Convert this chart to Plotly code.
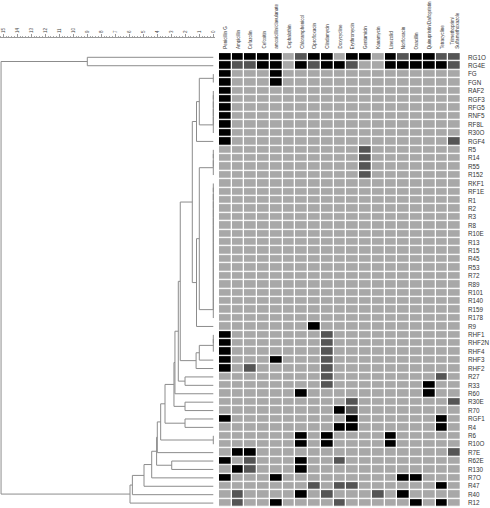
import plotly.graph_objects as go

# antibiotics (heatmap columns)
antibiotics = ["Penicillin G", "Ampicillin", "Cefazolin", "Cefoxitin",
               "amoxicillin/clavulanate", "Cephalothin", "Chloramphenicol",
               "Ciprofloxacin", "Clindamycin", "Doxycycline", "Erythromycin",
               "Gentamicin", "Kanamycin", "Linezolid", "Norfloxacin", "Oxacillin",
               "Quinupristin/Dalfopristin", "Tetracycline",
               "Trimethoprim/<br>Sulfamethoxazole"]

# isolates, top to bottom
isolates = ["RG1O", "RG4E", "FG", "FGN", "RAF2", "RGF3", "RFG5", "RNF5", "RF8L",
            "R30O", "RGF4", "R5", "R14", "R55", "R152", "RKF1", "RF1E", "R1", "R2",
            "R3", "R8", "R10E", "R13", "R15", "R45", "R53", "R72", "R89", "R101",
            "R140", "R159", "R178", "R9", "RHF1", "RHF2N", "RHF4", "RHF3", "RHF2",
            "R27", "R33", "R60", "R30E", "R70", "RGF1", "R4", "R6", "R10O", "R7E",
            "R62E", "R130", "R7O", "R47", "R40", "R12"]

# 0 = susceptible, 1 = intermediate, 2 = resistant
profiles = [
    "2222201220220212211",  # RG1O
    "2112202122100222221",  # RG4E
    "2000200000000000000",  # FG
    "2000200000000000000",  # FGN
    "2000000000000000000",  # RAF2
    "2000000000000000000",  # RGF3
    "2000000000000000000",  # RFG5
    "2000000000000000000",  # RNF5
    "2000000000000000000",  # RF8L
    "2000000000000000000",  # R30O
    "2000000000000000001",  # RGF4
    "0000000000010000000",  # R5
    "0000000000010000000",  # R14
    "0000000000010000000",  # R55
    "0000000000010000000",  # R152
    "0000000000000000000",  # RKF1
    "0000000000000000000",  # RF1E
    "0000000000000000000",  # R1
    "0000000000000000000",  # R2
    "0000000000000000000",  # R3
    "0000000000000000000",  # R8
    "0000000000000000000",  # R10E
    "0000000000000000000",  # R13
    "0000000000000000000",  # R15
    "0000000000000000000",  # R45
    "0000000000000000000",  # R53
    "0000000000000000000",  # R72
    "0000000000000000000",  # R89
    "0000000000000000000",  # R101
    "0000000000000000000",  # R140
    "0000000000000000000",  # R159
    "0000000000000000000",  # R178
    "0000000200000000000",  # R9
    "2000000010000000000",  # RHF1
    "2000000010000000000",  # RHF2N
    "2000000010000000000",  # RHF4
    "2000200010000000000",  # RHF3
    "2010000010000000000",  # RHF2
    "0000000010000000010",  # R27
    "0000000010000000200",  # R33
    "0000002000000000200",  # R60
    "0000000000100000001",  # R30E
    "0000000002100000000",  # R70
    "2000000000200000020",  # RGF1
    "0000000002200000020",  # R4
    "0000002020000200000",  # R6
    "0000002020000200000",  # R10O
    "0220000000000000001",  # R7E
    "2010002001000000000",  # R62E
    "0210002000000000000",  # R130
    "2000200000000022000",  # R7O
    "0000000101100000020",  # R47
    "0100002010001020000",  # R40
    "0100200001000002020",  # R12
]

# identical isolates joined at distance 0
groups = {
    "g_fg": ["FG", "FGN"],
    "g_raf": ["RAF2", "RGF3", "RFG5", "RNF5", "RF8L", "R30O"],
    "g_r5": ["R5", "R14", "R55", "R152"],
    "g_sus": ["RKF1", "RF1E", "R1", "R2", "R3", "R8", "R10E", "R13", "R15", "R45",
              "R53", "R72", "R89", "R101", "R140", "R159", "R178"],
    "g_rhf": ["RHF1", "RHF2N", "RHF4"],
    "g_r6": ["R6", "R10O"],
}

# (node, left, right, distance)
merges = [
    ("A3", "g_fg", "g_raf", 1.0),
    ("A", "A3", "RGF4", 1.2),
    ("B3", "g_r5", "g_sus", 1.0),
    ("B", "B3", "R9", 1.2),
    ("AB", "A", "B", 1.5),
    ("H4", "g_rhf", "RHF3", 1.0),
    ("H5", "H4", "RHF2", 1.23),
    ("C", "AB", "H5", 2.36),
    ("P1", "R27", "R33", 2.02),
    ("E", "C", "P1", 2.5),
    ("F1", "E", "R60", 2.74),
    ("P2", "R30E", "R70", 2.02),
    ("F2", "F1", "P2", 2.81),
    ("P3", "RGF1", "R4", 2.02),
    ("G", "F2", "P3", 3.45),
    ("Hn", "G", "g_r6", 3.76),
    ("I1", "Hn", "R7E", 4.0),
    ("P5", "R62E", "R130", 2.97),
    ("I2", "I1", "P5", 4.05),
    ("J", "I2", "R7O", 4.4),
    ("K", "J", "R47", 4.95),
    ("L", "K", "R40", 5.78),
    ("M", "L", "R12", 5.95),
    ("T", "RG1O", "RG4E", 9.0),
    ("root", "T", "M", 15.16),
]

dist_ticks = list(range(0, 16))


def build_dendrogram():
    """Return x/y line coordinates of the dendrogram."""
    nodes = {name: (i, 0.0) for i, name in enumerate(isolates)}
    xs, ys = [], []

    def join(nid, a, b, h):
        ya, ha = nodes[a]
        yb, hb = nodes[b]
        xs.extend([ha, h, h, hb, None])
        ys.extend([ya, ya, yb, yb, None])
        nodes[nid] = ((ya + yb) / 2, h)

    for gid, members in groups.items():
        prev = members[0]
        for k, m in enumerate(members[1:]):
            nid = gid if k == len(members) - 2 else f"{gid}_{k}"
            join(nid, prev, m, 0.0)
            prev = nid
    for nid, a, b, h in merges:
        join(nid, a, b, h)
    return xs, ys


z = [[int(c) for c in row] for row in profiles]
dx, dy = build_dendrogram()

W, H = 490, 508
FONT = "Liberation Sans, Arial, sans-serif"

fig = go.Figure()
fig.add_trace(go.Scatter(x=dx, y=dy, mode="lines", xaxis="x", yaxis="y",
                         line=dict(color="#8c8c8c", width=1), hoverinfo="skip",
                         showlegend=False))
fig.add_trace(go.Heatmap(z=z, x=list(range(len(antibiotics))),
                         y=list(range(len(isolates))), xaxis="x2", yaxis="y",
                         zmin=0, zmax=2, showscale=False, xgap=1.3, ygap=1.3,
                         colorscale=[[0, "#a8a8a8"], [0.333, "#a8a8a8"],
                                     [0.333, "#555555"], [0.667, "#555555"],
                                     [0.667, "#000000"], [1, "#000000"]]))

# column labels above the heatmap
for i, name in enumerate(antibiotics):
    fig.add_annotation(x=i, xref="x2", y=(H - 51) / H, yref="paper",
                       text=name, textangle=-90, showarrow=False,
                       xanchor="center", yanchor="bottom",
                       font=dict(size=4.5, color="#333333", family=FONT))

fig.update_layout(
    width=W, height=H, template="none",
    margin=dict(l=0, r=0, t=0, b=0),
    paper_bgcolor="white", plot_bgcolor="white",
    xaxis=dict(domain=[0, 215 / W], range=[15 + 3.3 / 14, 15 - (215 - 3.3) / 14],
               anchor="free", position=(H - 37) / H, side="top",
               showgrid=False, zeroline=False, showline=True, linecolor="#999999",
               linewidth=1, ticks="outside", ticklen=3, tickcolor="#999999",
               tickvals=dist_ticks, ticktext=[str(t) for t in dist_ticks],
               tickangle=-90, tickfont=dict(size=4.5, color="#444444", family=FONT),
               minor=dict(ticks="outside", dtick=0.2, ticklen=1.5,
                          tickcolor="#aaaaaa"),
               automargin=False),
    xaxis2=dict(domain=[219 / W, 461 / W], range=[-0.5, len(antibiotics) - 0.5],
                anchor="y", showgrid=False, zeroline=False, showticklabels=False,
                ticks="", showline=False, automargin=False),
    yaxis=dict(domain=[(H - 507.3) / H, (H - 53.1) / H],
               range=[len(isolates) - 0.5, -0.5], anchor="x2", side="right",
               showgrid=False, zeroline=False, showline=False, ticks="",
               tickvals=list(range(len(isolates))), ticktext=isolates,
               ticklabelstandoff=6,
               tickfont=dict(size=6.3, color="#333333", family=FONT),
               automargin=False),
)

# drop the default page margin so the figure sits at the window's corner
fig.write_html("out.html", config={"displayModeBar": False},
               post_script="document.body.style.margin='0';")
